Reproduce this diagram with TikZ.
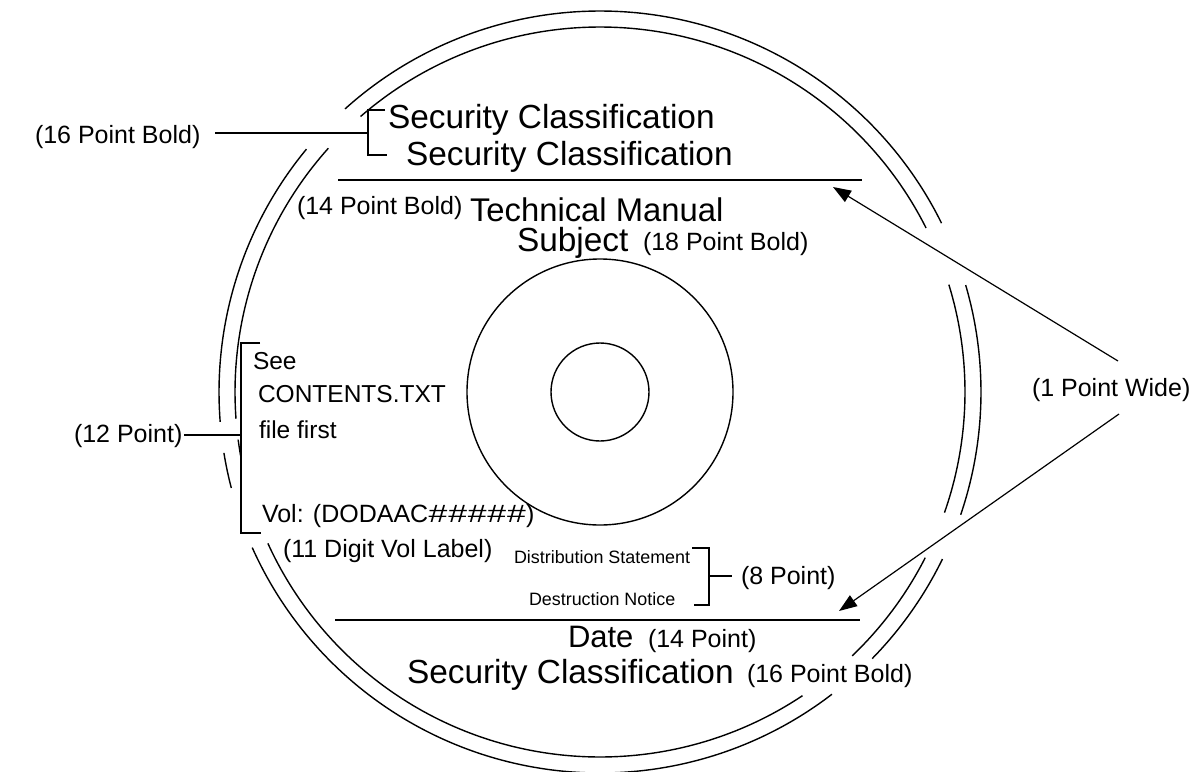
\documentclass[tikz,border=0pt]{standalone}
\usepackage{fontspec}
\usepackage{graphicx}
\setmainfont{Liberation Sans}
\usetikzlibrary{arrows.meta}
\newcommand\px[1]{\fontsize{#1}{#1}\selectfont}
% wide hash sign used in the volume label
\newcommand\widehash{\makebox[19.6pt]{\scalebox{1.35}[1]{\#}}}

\begin{document}
\begin{tikzpicture}[x=1pt,y=-1pt,
  txt/.style={anchor=base west, inner sep=0pt, outer sep=0pt},
  note/.style={txt, font=\px{25}},
  main/.style={txt, font=\px{33.4}},
  datefont/.style={txt, font=\px{31}},
  small/.style={txt, font=\px{17.9}},
  body/.style={txt, font=\px{24.5}},
  ring/.style={line width=1.4pt},
  rule/.style={line width=1.3pt},
  lead/.style={line width=1.2pt},
  pointer/.style={line width=1.2pt, -{Triangle[length=18pt,width=13pt]}},
]
\useasboundingbox[fill=white] (0,0) rectangle (1193,771);

% ---- disc: hub and centre hole
\coordinate (C) at (600,392);
\draw[ring] (C) circle[radius=133];
\draw[ring] (C) circle[radius=49];

% ---- disc rim: two concentric rings, broken where labels cross
\foreach \a/\b in {26.3/132, 140.4/184.5, 189.2/194.6, 204.1/307.5, 315.6/334, 341.2/376.3}
  \draw[ring] (C) ++(-\a:381) arc[start angle=-\a, end angle=-\b, radius=381];
\foreach \a/\b in {26.7/131, 138.1/184.2, 187.5/190.5, 204.5/303.7, 313.7/333, 340.7/377.1}
  \draw[ring] (C) ++(-\a:365) arc[start angle=-\a, end angle=-\b, radius=365];

% ---- top: classification lines
\node[main] (sc1) at (388,128) {Security Classification};
\node[main] (sc2) at (406,165) {Security Classification};
\coordinate (brTa) at (385,110);
\coordinate (brT)  at (368,110);
\coordinate (brB)  at (368,155);
\coordinate (brBb) at (387,155);
\draw[lead] (brTa) -- (brT) -- (brB) -- (brBb);
\node[note] (n16a) at (35,143) {(16 Point Bold)};
\coordinate (l16) at (215,133);
\draw[lead] (l16) -- (l16 -| brT);

\coordinate (r1a) at (338,180);
\coordinate (r1b) at (862,180);
\draw[rule] (r1a) -- (r1b);

% ---- title
\node[note] (n14b) at (297,214) {(14 Point Bold)};
\node[main, font=\px{32.8}] (tm) at (470,221) {Technical Manual};
\node[main] (subj) at (517,251) {Subject};
\node[note] (n18) at (643,250) {(18 Point Bold)};

% ---- left block
\node[body] (see)  at (253,369) {See};
\node[body] (cont) at (258,402) {CONTENTS.TXT};
\node[body] (ff)   at (259,438) {file first};
\node[body, font=\px{25}] (vol) at (262,522)
  {Vol: (DODAAC\widehash\widehash\widehash\widehash\widehash)};
\node[note] (dig)  at (283,557) {(11 Digit Vol Label)};
\coordinate (blTa) at (260,343);
\coordinate (blT)  at (241,343);
\coordinate (blB)  at (241,533);
\coordinate (blBb) at (261,533);
\draw[lead] (blTa) -- (blT) -- (blB) -- (blBb);
\node[note] (n12) at (74,442) {(12 Point)};
\coordinate (l12) at (184,435);
\draw[lead] (l12) -- (l12 -| blT);

% ---- 8 point notices
\node[small] (dist)  at (514,563) {Distribution Statement};
\node[small] (destr) at (529,605) {Destruction Notice};
\coordinate (b8Ta) at (692,548);
\coordinate (b8T)  at (709,548);
\coordinate (b8B)  at (709,605);
\coordinate (b8Bb) at (694,605);
\draw[lead] (b8Ta) -- (b8T) -- (b8B) -- (b8Bb);
\coordinate (l8) at (732,576);
\draw[lead] (l8 -| b8T) -- (l8);
\node[note] (n8) at (741,584) {(8 Point)};

\coordinate (r2a) at (335,620);
\coordinate (r2b) at (860,620);
\draw[rule] (r2a) -- (r2b);

% ---- bottom
\node[datefont] (date) at (568,647) {Date};
\node[note] (n14) at (648,647) {(14 Point)};
\node[main] (sc3) at (407,683) {Security Classification};
\node[note] (n16b) at (747,682) {(16 Point Bold)};

% ---- rule width callout
\node[note] (wide) at (1032,396) {(1 Point Wide)};
\coordinate (w1) at (1118,361);
\coordinate (w2) at (1119,414);
\coordinate (tip1) at (833,187);
\coordinate (tip2) at (839,611);
\draw[pointer] (w1) -- (tip1);
\draw[pointer] (w2) -- (tip2);
\end{tikzpicture}
\end{document}
